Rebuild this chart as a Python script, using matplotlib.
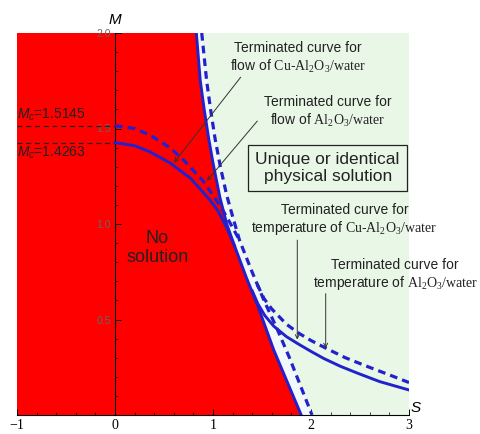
import numpy as np
import matplotlib
matplotlib.use('Agg')
import matplotlib.pyplot as plt

plt.rcParams['font.family'] = 'Liberation Sans'
plt.rcParams['mathtext.fontset'] = 'custom'
plt.rcParams['mathtext.rm'] = 'Liberation Serif'
plt.rcParams['mathtext.it'] = 'Liberation Sans:italic'

# ── Data ────────────────────────────────────────────────────────────
MC_CU = 1.4263
MC_AL = 1.5145

# steep branch, Cu-Al2O3/water (solid), top -> bottom
cu_steep_M = [2.0, 1.75, 1.6, 1.45, 1.32, 1.14, 1.0, 0.885, 0.72, 0.567, 0.34, 0.17, 0.0]
cu_steep_S = [0.83, 0.87, 0.91, 0.955, 1.0, 1.07, 1.14, 1.22, 1.34, 1.46, 1.62, 1.76, 1.90]

# steep branch, Al2O3/water (dashed), top -> bottom
al_steep_M = [2.0, 1.75, 1.6, 1.45, 1.3, 1.15, 1.04, 0.916, 0.76, 0.6, 0.45, 0.3, 0.15, 0.0]
al_steep_S = [0.885, 0.935, 0.975, 1.02, 1.075, 1.14, 1.20, 1.27, 1.39, 1.52, 1.655, 1.78, 1.895, 2.01]

# flow branch starting at M_c
cu_flow_S = [0.0, 0.2, 0.36, 0.56, 0.77, 0.97, 1.05, 1.14, 1.22]
cu_flow_M = [MC_CU, 1.41, 1.377, 1.32, 1.24, 1.125, 1.07, 0.98, 0.885]
al_flow_S = [0.0, 0.2, 0.36, 0.56, 0.7, 0.9, 1.08, 1.18, 1.27]
al_flow_M = [MC_AL, 1.50, 1.465, 1.40, 1.335, 1.225, 1.09, 1.0, 0.916]

# temperature tail
cu_tail_S = [1.40, 1.46, 1.53, 1.62, 1.75, 1.87, 2.0, 2.13, 2.3, 2.48, 2.7, 3.0]
cu_tail_M = [0.65, 0.58, 0.52, 0.465, 0.41, 0.372, 0.333, 0.296, 0.255, 0.218, 0.175, 0.131]
al_tail_S = [1.45, 1.52, 1.60, 1.75, 1.87, 2.0, 2.17, 2.35, 2.58, 2.8, 3.0]
al_tail_M = [0.685, 0.61, 0.555, 0.475, 0.43, 0.39, 0.345, 0.30, 0.253, 0.21, 0.17]

x_ticks = [-1, 0, 1, 2, 3]
y_ticks = [0.5, 1.0, 1.5, 2.0]

BLUE = '#2222cc'
RED = '#ff0000'
GREEN = '#e8f7e6'
PALE = '#f3f9fb'

fig = plt.figure(figsize=(4.8, 4.34), dpi=100)
ax = fig.add_axes([17/480, 19/434, 392/480, 382/434])
ax.set_xlim(-1, 3)
ax.set_ylim(0, 2)

# ── Regions ─────────────────────────────────────────────────────────
ax.fill([-1, -1] + cu_steep_S, [0, 2] + cu_steep_M, color=RED, lw=0, zorder=1)
ax.fill(cu_steep_S + al_steep_S[::-1], cu_steep_M + al_steep_M[::-1], color=PALE, lw=0, zorder=1)
ax.fill(al_steep_S + [3, 3], al_steep_M + [0, 2], color=GREEN, lw=0, zorder=1)

# ── Curves ──────────────────────────────────────────────────────────
kw_s = dict(color=BLUE, lw=2.1, zorder=3, solid_joinstyle='round')
kw_d = dict(color=BLUE, lw=2.3, ls=(0, (2.4, 1.6)), zorder=3)
ax.plot(cu_steep_S, cu_steep_M, **kw_s)
ax.plot(cu_flow_S, cu_flow_M, **kw_s)
ax.plot(cu_tail_S, cu_tail_M, **kw_s)
ax.plot(al_steep_S, al_steep_M, **kw_d)
ax.plot(al_flow_S, al_flow_M, **kw_d)
ax.plot(al_tail_S, al_tail_M, **kw_d)

# critical values
for mc in (MC_AL, MC_CU):
    ax.plot([-1, 0], [mc, mc], color='#222', lw=0.9, ls=(0, (4, 3)), zorder=2)
ax.text(-1, MC_AL + 0.012, r'$M_c$=%.4f' % MC_AL, fontsize=10, ha='left', va='bottom', color='#222')
ax.text(-1, MC_CU - 0.012, r'$M_c$=%.4f' % MC_CU, fontsize=10, ha='left', va='top', color='#222')

# ── Axes through origin ────────────────────────────────────────────
for side in ('top', 'right'):
    ax.spines[side].set_visible(False)
ax.spines['left'].set_position(('data', 0))
ax.spines['bottom'].set_position(('data', 0))
ax.spines['left'].set_linewidth(0.8)
ax.spines['bottom'].set_linewidth(0.8)
ax.spines['left'].set_zorder(2)
ax.set_xticks(x_ticks)
ax.set_xticklabels(['\u22121', '0', '1', '2', '3'], fontfamily='Liberation Serif', fontsize=10)
ax.set_yticks(y_ticks)
ax.set_yticklabels(['%.1f' % v for v in y_ticks], fontsize=7.5, color='#666')
ax.set_xticks(np.arange(-1, 3.01, 0.2), minor=True)
ax.set_yticks(np.arange(0, 2.01, 0.1), minor=True)
ax.tick_params(direction='in', length=4, width=0.7, pad=3)
ax.tick_params(which='minor', direction='in', length=2, width=0.5)
ax.patch.set_visible(False)

ax.text(3.02, 0.0, 'S', fontsize=11, fontstyle='italic', ha='left', va='bottom')
ax.text(0.0, 2.03, 'M', fontsize=11, fontstyle='italic', ha='center', va='bottom')

# ── Labels ──────────────────────────────────────────────────────────
ax.text(0.43, 0.875, 'No\nsolution', fontsize=13, ha='center', va='center', color='#222', linespacing=1.1)
ax.text(2.17, 1.293, 'Unique or identical\nphysical solution', fontsize=12.5, ha='center', va='center',
        linespacing=1.1, color='#222', zorder=5,
        bbox=dict(boxstyle='square,pad=0.42', fc='none', ec='#222', lw=0.9))

akw = dict(arrowstyle='->', lw=0.7, color='#333', mutation_scale=7)
tkw = dict(fontsize=10, ha='center', va='center', color='#222', linespacing=1.2, zorder=5)

ax.text(1.87, 1.87, 'Terminated curve for\nflow of $\\mathrm{Cu}$-$\\mathrm{Al_2O_3/water}$', **tkw)
ax.annotate('', xy=(0.585, 1.31), xytext=(1.30, 1.78), arrowprops=akw, zorder=4)

ax.text(2.17, 1.586, 'Terminated curve for\nflow of $\\mathrm{Al_2O_3/water}$', **tkw)
ax.annotate('', xy=(0.92, 1.215), xytext=(1.47, 1.55), arrowprops=akw, zorder=4)

ax.text(2.34, 1.02, 'Terminated curve for\ntemperature of $\\mathrm{Cu}$-$\\mathrm{Al_2O_3/water}$', **tkw)
ax.annotate('', xy=(1.86, 0.38), xytext=(1.86, 0.93), arrowprops=akw, zorder=4)

ax.text(2.86, 0.733, 'Terminated curve for\ntemperature of $\\mathrm{Al_2O_3/water}$', clip_on=False, **tkw)
ax.annotate('', xy=(2.15, 0.335), xytext=(2.15, 0.65), arrowprops=akw, zorder=4)

fig.savefig('out.png', dpi=100)
